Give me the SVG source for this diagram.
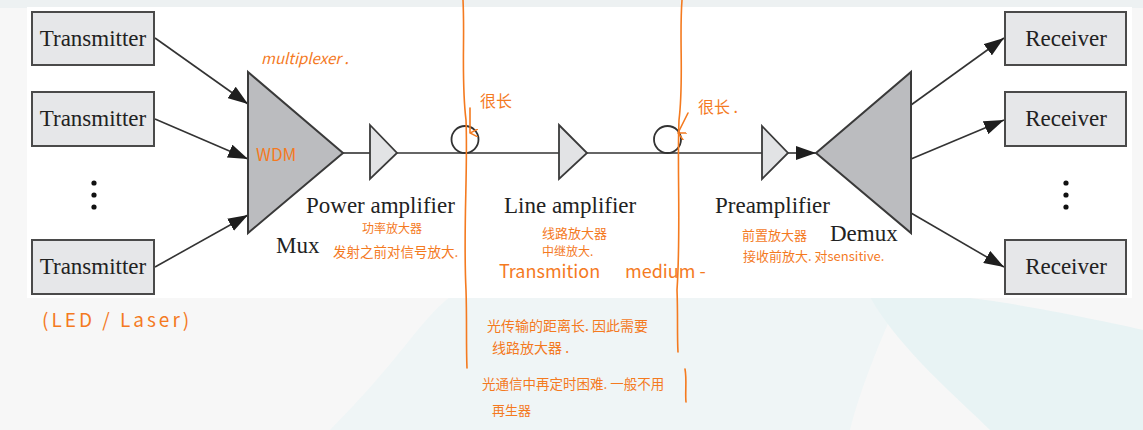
<svg xmlns="http://www.w3.org/2000/svg" width="1143" height="430" viewBox="0 0 1143 430">
  <style>
    .box{fill:#e6e7e9;stroke:#4a4a4a;stroke-width:2}
    .lbl{font-family:"Liberation Serif","Times New Roman",serif;font-size:23px;fill:#222}
    .edge{stroke:#333;stroke-width:1.6;fill:none}
    .big{fill:#bbbcbf;stroke:#3a3a3a;stroke-width:2}
    .amp{fill:#e2e3e5;stroke:#3a3a3a;stroke-width:1.8}
    .ring{fill:none;stroke:#333;stroke-width:1.8}
    .dot{fill:#111}
    .note{font-family:"Noto Sans CJK SC","Noto Sans",sans-serif;fill:#f47a1f}
    .ink{stroke:#f47a1f;stroke-width:1.6;fill:none;stroke-linecap:round}
  </style>
  <defs>
    <marker id="ah" markerUnits="userSpaceOnUse" markerWidth="20" markerHeight="14" viewBox="0 0 20 14" refX="20" refY="7" orient="auto">
      <path d="M0,0 L20,7 L0,14 z" fill="#1e1e1e"/>
    </marker>
    <marker id="ink" markerUnits="userSpaceOnUse" markerWidth="8" markerHeight="8" viewBox="0 0 8 8" refX="4" refY="8" orient="auto">
      <path d="M0,0 L4,8 L8,0" fill="none" stroke="#f47a1f" stroke-width="1.5"/>
    </marker>
  </defs>

  <!-- background -->
  <rect x="0" y="0" width="1143" height="430" fill="#f7f7f7"/>
  <path d="M330,430 C400,360 420,320 450,297 L900,297 C880,340 860,390 850,430 Z" fill="#eff5f6"/>
  <path d="M870,297 C900,350 960,400 990,430 L1143,430 L1143,330 C1100,320 1000,300 960,297 Z" fill="#e8f3f4"/>
  <rect x="0" y="0" width="1143" height="8" fill="#edf1f2"/>
  <rect x="27" y="7" width="1105" height="291" fill="#ffffff"/>

  <!-- connectors -->
  <g id="connectors">
    <line class="edge" x1="155" y1="38" x2="248" y2="104" marker-end="url(#ah)"/>
    <line class="edge" x1="155" y1="119" x2="248" y2="159" marker-end="url(#ah)"/>
    <line class="edge" x1="155" y1="267" x2="248" y2="215" marker-end="url(#ah)"/>
    <line class="edge" x1="343" y1="153" x2="370" y2="153"/>
    <line class="edge" x1="397" y1="153" x2="559" y2="153"/>
    <line class="edge" x1="587" y1="153" x2="762" y2="153"/>
    <line class="edge" x1="788" y1="153" x2="816" y2="153" marker-end="url(#ah)"/>
    <line class="edge" x1="911" y1="105" x2="1004" y2="38" marker-end="url(#ah)"/>
    <line class="edge" x1="911" y1="159" x2="1004" y2="120" marker-end="url(#ah)"/>
    <line class="edge" x1="911" y1="213" x2="1004" y2="267" marker-end="url(#ah)"/>
  </g>

  <!-- transmitters -->
  <g id="tx1"><rect class="box" x="32" y="12" width="122" height="53"/><text class="lbl" x="93" y="46" text-anchor="middle">Transmitter</text></g>
  <g id="tx2"><rect class="box" x="32" y="92" width="122" height="54"/><text class="lbl" x="93" y="126" text-anchor="middle">Transmitter</text></g>
  <g id="txdots"><circle class="dot" cx="94" cy="183" r="2.6"/><circle class="dot" cx="94" cy="195" r="2.6"/><circle class="dot" cx="94" cy="207" r="2.6"/></g>
  <g id="tx3"><rect class="box" x="32" y="240" width="122" height="54"/><text class="lbl" x="93" y="274" text-anchor="middle">Transmitter</text></g>

  <!-- mux -->
  <g id="mux"><polygon class="big" points="248,72 343,153 248,233"/><text class="lbl" x="276" y="253">Mux</text></g>

  <!-- power amplifier -->
  <g id="poweramp"><polygon class="amp" points="370,125 397,153 370,179"/><text class="lbl" x="306" y="213">Power amplifier</text></g>

  <!-- fiber spools -->
  <g id="fiber1"><circle class="ring" cx="465" cy="139.5" r="13.5"/></g>

  <g id="lineamp"><polygon class="amp" points="559,125 587,153 559,179"/><text class="lbl" x="504" y="213">Line amplifier</text></g>

  <g id="fiber2"><circle class="ring" cx="667.5" cy="139.5" r="13.5"/></g>

  <g id="preamp"><polygon class="amp" points="762,126 788,153 762,179"/><text class="lbl" x="715" y="213">Preamplifier</text></g>

  <!-- demux -->
  <g id="demux"><polygon class="big" points="816,153 911,72 911,233"/><text class="lbl" x="830" y="241">Demux</text></g>

  <!-- receivers -->
  <g id="rx1"><rect class="box" x="1005" y="12" width="121" height="53"/><text class="lbl" x="1066" y="46" text-anchor="middle">Receiver</text></g>
  <g id="rx2"><rect class="box" x="1005" y="92" width="121" height="54"/><text class="lbl" x="1066" y="126" text-anchor="middle">Receiver</text></g>
  <g id="rxdots"><circle class="dot" cx="1066" cy="183" r="2.6"/><circle class="dot" cx="1066" cy="195" r="2.6"/><circle class="dot" cx="1066" cy="207" r="2.6"/></g>
  <g id="rx3"><rect class="box" x="1005" y="240" width="121" height="54"/><text class="lbl" x="1066" y="274" text-anchor="middle">Receiver</text></g>

  <!-- handwritten annotations -->
  <g id="annotations">
    <path class="ink" d="M463,0 C465,40 461,80 466,120 C468,170 463,230 466,290 C467,320 466,345 467,368"/>
    <path class="ink" d="M682,0 C679,40 684,80 679,120 C677,170 681,230 677,290 C678,315 677,335 678,352"/>
    <path class="ink" d="M685,369 C687,380 685,392 686,402"/>
    <path class="ink" d="M470,108 L470,133" marker-end="url(#ink)"/>
    <path class="ink" d="M688,113 L678,133" marker-end="url(#ink)"/>
    <text class="note" x="261" y="64" font-size="15" font-style="italic">multiplexer .</text>
    <text class="note" x="256" y="161" font-size="17">WDM</text>
    <text class="note" x="480" y="107" font-size="16">很长</text>
    <text class="note" x="698" y="113" font-size="16">很长 .</text>
    <text class="note" x="362" y="233" font-size="12">功率放大器</text>
    <text class="note" x="333" y="257" font-size="13.5">发射之前对信号放大.</text>
    <text class="note" x="542" y="238" font-size="13">线路放大器</text>
    <text class="note" x="542" y="256" font-size="12">中继放大.</text>
    <text class="note" x="499" y="278" font-size="18">Transmition</text>
    <text class="note" x="625" y="278" font-size="18">medium -</text>
    <text class="note" x="742" y="240" font-size="13">前置放大器</text>
    <text class="note" x="743" y="261" font-size="13">接收前放大. 对sensitive.</text>
    <text class="note" x="42" y="327" font-size="19" letter-spacing="3">(LED / Laser)</text>
    <text class="note" x="487" y="331" font-size="14">光传输的距离长. 因此需要</text>
    <text class="note" x="492" y="353" font-size="14">线路放大器 .</text>
    <text class="note" x="482" y="389" font-size="13.5">光通信中再定时困难. 一般不用</text>
    <text class="note" x="492" y="415" font-size="13">再生器</text>
  </g>
</svg>
